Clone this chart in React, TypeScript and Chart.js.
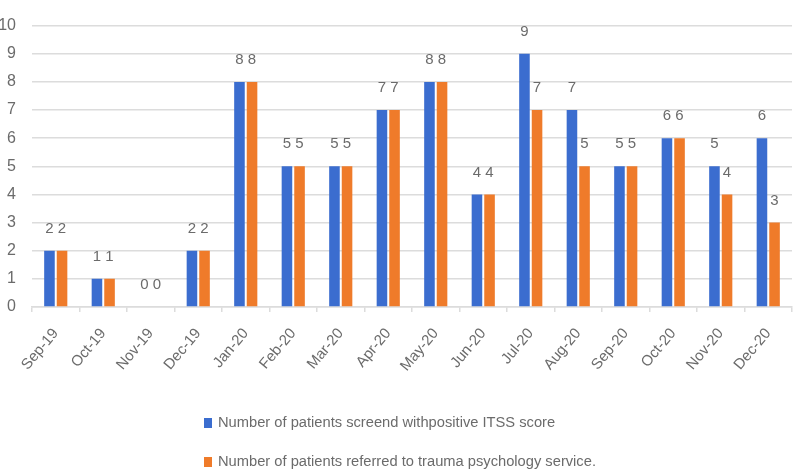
import React, { useEffect, useRef } from "react";
import { Chart, registerables } from "chart.js";

Chart.register(...registerables);

const months = [
  "Sep-19", "Oct-19", "Nov-19", "Dec-19", "Jan-20", "Feb-20", "Mar-20", "Apr-20",
  "May-20", "Jun-20", "Jul-20", "Aug-20", "Sep-20", "Oct-20", "Nov-20", "Dec-20",
];
const screenedPositive = [2, 1, 0, 2, 8, 5, 5, 7, 8, 4, 9, 7, 5, 6, 5, 6];
const referredTrauma = [2, 1, 0, 2, 8, 5, 5, 7, 8, 4, 7, 5, 5, 6, 4, 3];
const yTicks = [0, 1, 2, 3, 4, 5, 6, 7, 8, 9, 10];

const seriesNames = [
  "Number of patients screend withpositive ITSS score",
  "Number of patients referred to trauma psychology service.",
];

const BLUE = "#3b6dcf";
const ORANGE = "#ef7b2a";
const TEXT = "#6b6b6b";
const GRID = "#dcdcdc";
const FONT = "'Liberation Sans', Arial, sans-serif";

// Value labels above each bar
const valueLabels = {
  id: "valueLabels",
  afterDatasetsDraw(chart: any) {
    const ctx = chart.ctx;
    ctx.save();
    ctx.fillStyle = TEXT;
    ctx.font = `15px ${FONT}`;
    ctx.textAlign = "center";
    ctx.textBaseline = "middle";
    chart.data.datasets.forEach((ds: any, di: number) => {
      const meta = chart.getDatasetMeta(di);
      meta.data.forEach((bar: any, i: number) => {
        ctx.fillText(String(ds.data[i]), bar.x, bar.y - 22);
      });
    });
    ctx.restore();
  },
};

// Stacked legend below the axis labels
const stackedLegend = {
  id: "stackedLegend",
  afterDraw(chart: any) {
    const ctx = chart.ctx;
    ctx.save();
    ctx.font = `14.7px ${FONT}`;
    ctx.textBaseline = "middle";
    ctx.textAlign = "left";
    const rows = [423, 462];
    chart.data.datasets.forEach((ds: any, di: number) => {
      const y = rows[di];
      ctx.fillStyle = ds.backgroundColor;
      ctx.fillRect(204, y - 5, 8, 10);
      ctx.fillStyle = TEXT;
      ctx.fillText(ds.label, 218, y);
    });
    ctx.restore();
  },
};

export default function App() {
  const canvasRef = useRef<HTMLCanvasElement | null>(null);

  useEffect(() => {
    document.body.style.margin = "0";
    const canvas = canvasRef.current;
    if (!canvas) return;
    const chart = new Chart(canvas, {
      type: "bar",
      data: {
        labels: months,
        datasets: [
          {
            label: seriesNames[0],
            data: screenedPositive,
            backgroundColor: BLUE,
            barPercentage: 0.84,
            categoryPercentage: 0.53,
          },
          {
            label: seriesNames[1],
            data: referredTrauma,
            backgroundColor: ORANGE,
            barPercentage: 0.84,
            categoryPercentage: 0.53,
          },
        ],
      },
      options: {
        responsive: false,
        animation: false,
        devicePixelRatio: 1,
        layout: { padding: { top: 5, right: 4, left: 0, bottom: 0 } },
        plugins: {
          legend: { display: false },
          tooltip: { enabled: false },
        },
        scales: {
          x: {
            grid: {
              display: true,
              drawOnChartArea: false,
              drawTicks: true,
              tickLength: 5,
              color: GRID,
              lineWidth: 1.5,
            },
            border: { display: true, color: GRID, width: 1.5 },
            ticks: {
              color: TEXT,
              font: { family: FONT, size: 15 },
              minRotation: 50,
              maxRotation: 50,
              padding: 13,
            },
            afterFit(scale: any) {
              scale.height = 475 - 307;
            },
          },
          y: {
            min: 0,
            max: 10,
            afterBuildTicks(scale: any) {
              scale.ticks = yTicks.map((v) => ({ value: v }));
            },
            grid: { color: GRID, lineWidth: 1.5, drawTicks: false },
            border: { display: false },
            ticks: {
              color: TEXT,
              font: { family: FONT, size: 16 },
              padding: 16,
            },
            afterFit(scale: any) {
              scale.width = 32;
            },
          },
        },
      },
      plugins: [valueLabels, stackedLegend],
    });
    return () => chart.destroy();
  }, []);

  return (
    <div style={{ position: "absolute", left: 0, top: 0, width: 796, height: 475, background: "#fff" }}>
      <canvas ref={canvasRef} width={796} height={475} />
    </div>
  );
}
